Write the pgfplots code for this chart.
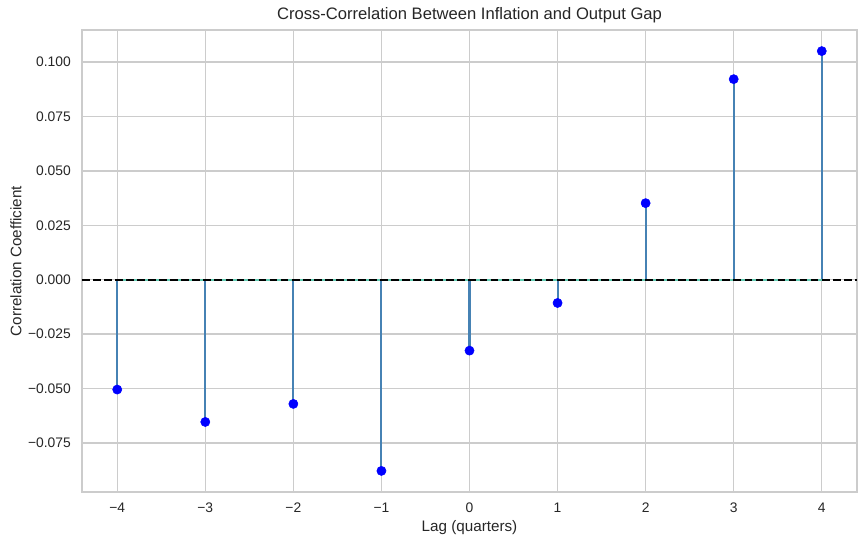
\documentclass[border=0pt]{standalone}
\usepackage{fontspec}
\setmainfont{Liberation Sans}
\usepackage{pgfplots}
\pgfplotsset{compat=1.18}
\definecolor{gridgray}{RGB}{204,204,204}
\definecolor{txt}{RGB}{38,38,38}
\definecolor{stemblue}{RGB}{70,130,180}
\definecolor{baseteal}{RGB}{100,205,180}
\definecolor{dotblue}{RGB}{0,0,255}

\pgfplotstableread{
lag corr
-4 -0.0505
-3 -0.0654
-2 -0.0571
-1 -0.0879
0 -0.0326
1 -0.0107
2 0.0352
3 0.0922
4 0.1051
}\ccf

\begin{document}
\begin{tikzpicture}
\begin{axis}[
    name=ax,
    at={(0,0)}, anchor=south west,
    scale only axis,
    width=558bp, height=332.64bp,
    xmin=-4.4, xmax=4.4,
    ymin=-0.0976, ymax=0.1148,
    xtick={-4,...,4},
    xticklabels={−4,−3,−2,−1,0,1,2,3,4},
    ytick={-0.075,-0.05,-0.025,0,0.025,0.05,0.075,0.1},
    yticklabels={−0.075,−0.050,−0.025,0.000,0.025,0.050,0.075,0.100},
    major tick length=0pt,
    grid=major,
    major grid style={draw=gridgray, line width=1bp},
    axis line style={draw=gridgray, line width=1.25bp},
    tick label style={font=\fontsize{10}{12}\selectfont, text=txt, inner sep=0pt},
    xticklabel style={anchor=center, yshift=-11.5bp},
    yticklabel style={anchor=east, xshift=-7.9bp},
    xlabel={Lag (quarters)},
    xlabel style={at={(axis description cs:0.5,-0.0779)}, anchor=center, inner sep=0pt,
        font=\fontsize{11}{13}\selectfont, text=txt},
    ylabel={Correlation Coefficient},
    ylabel style={at={(axis description cs:-0.0851,0.5)}, anchor=center, inner sep=0pt,
        font=\fontsize{11}{13}\selectfont, text=txt},
]
    % stems
    \addplot[ycomb, draw=stemblue, line width=1.5bp, no marks] table[x=lag, y=corr] {\ccf};
    % stem baseline
    \addplot[draw=baseteal, line width=1.5bp, no marks] coordinates {(-4,0) (4,0)};
    % zero reference line
    \addplot[draw=black, line width=1.5bp, dash pattern=on 5.55bp off 2.4bp, no marks]
        coordinates {(-4.4,0) (4.4,0)};
    % markers
    \addplot[only marks, mark=*, mark size=3.3bp, draw=dotblue, fill=dotblue] table[x=lag, y=corr] {\ccf};
\end{axis}
\node[anchor=center, inner sep=0pt, font=\fontsize{12}{14}\selectfont, text=txt]
    at ([yshift=10.8bp]ax.north) {Cross-Correlation Between Inflation and Output Gap};
\pgfresetboundingbox
\path (-59.04bp,-38.16bp) rectangle (565.2bp,354.24bp);
\end{tikzpicture}
\end{document}
